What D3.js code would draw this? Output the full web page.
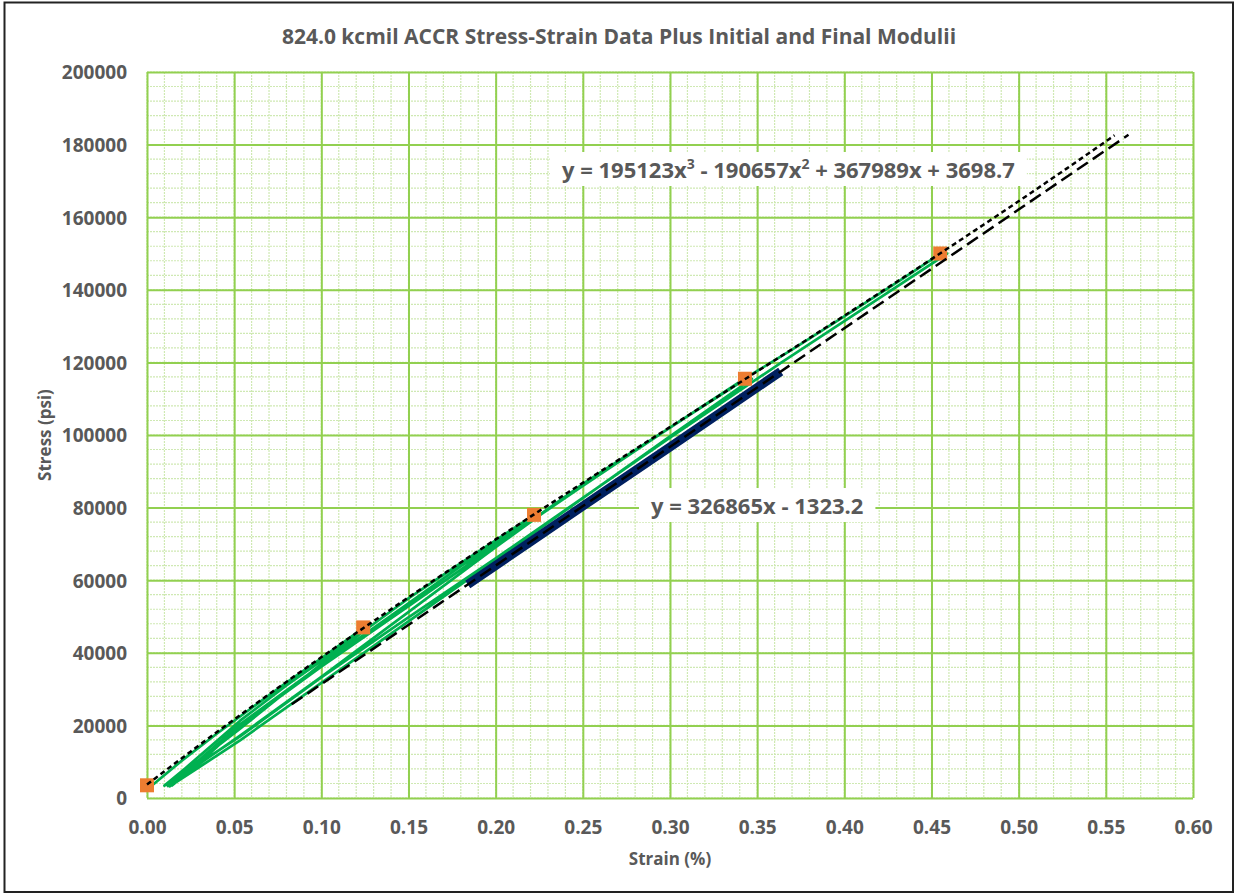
<!DOCTYPE html>
<html>
<head>
<meta charset="utf-8">
<script src="https://cdn.jsdelivr.net/npm/d3@7"></script>
<style>
  body { margin: 0; background: #fff; }
  svg text { font-family: "Open Sans", "DejaVu Sans", sans-serif; font-weight: 700; fill: #595959; }
</style>
</head>
<body>
<svg id="chart" width="1235" height="894"></svg>
<script>
// Axis ticks
const strainTicks = [0, 0.05, 0.10, 0.15, 0.20, 0.25, 0.30, 0.35, 0.40, 0.45, 0.50, 0.55, 0.60];
const stressTicks = [0, 20000, 40000, 60000, 80000, 100000, 120000, 140000, 160000, 180000, 200000];

// Loading / unloading cycles of the test (strain %, stress psi), in recorded order
const testStrain = [
  0.003, 0.02, 0.04, 0.06, 0.08, 0.10, 0.124,
  0.127, 0.10, 0.075, 0.0534, 0.035, 0.022, 0.010,
  0.022, 0.0534, 0.08, 0.10, 0.127, 0.15, 0.18, 0.20, 0.222,
  0.226, 0.20, 0.1451, 0.10, 0.0534, 0.03, 0.012,
  0.024, 0.0534, 0.10, 0.1451, 0.18, 0.226, 0.25, 0.28, 0.31, 0.343,
  0.347, 0.30, 0.25, 0.20, 0.1451, 0.10, 0.0534, 0.03, 0.013,
  0.026, 0.0534, 0.10, 0.1451, 0.20, 0.25, 0.30, 0.343, 0.37, 0.40, 0.43, 0.455,
  0.459, 0.40, 0.364, 0.30, 0.25, 0.20, 0.1451, 0.10, 0.0534, 0.03, 0.014
];
const testStress = [
  3500, 10300, 17700, 24800, 31800, 38500, 46800,
  47000, 36900, 27400, 19100, 12300, 7600, 3400,
  8200, 21300, 31000, 37800, 46900, 55000, 64700, 71000, 77900,
  78100, 69100, 49500, 33400, 17200, 9400, 3300,
  8000, 20300, 36700, 52000, 63900, 78300, 86500, 95800, 105100, 115300,
  115500, 99600, 82600, 65600, 47000, 31700, 15900, 8500, 3200,
  7900, 19900, 36200, 51200, 69600, 86000, 102000, 115600, 123500, 132700, 142000, 149900,
  150000, 131400, 120000, 99300, 82700, 66000, 48200, 33200, 17000, 9600, 3300
];

// Hold points at the start and at each peak load
const peakStrain = [0.0, 0.124, 0.222, 0.343, 0.455];
const peakStress = [3500, 47000, 78000, 115500, 150000];

// Final unloading segment used for the final modulus
const finalStrain = [0.184, 0.22, 0.26, 0.30, 0.3635];
const finalStress = [58800, 70600, 83700, 96700, 117500];

// Trendlines: initial (cubic) and final (linear) moduli
const polyCoef = [195123, -190657, 367989, 3698.7];   // x^3, x^2, x, 1
const polyRange = [0, 0.555];
const linCoef = [326865, -1323.2];                      // x, 1
const linRange = [0.083, 0.563];

const svg = d3.select("#chart");
const W = 1235, H = 894;
const m = { left: 147, top: 72, right: 1193, bottom: 798 };

// Outer frame
svg.append("rect").attr("x", 4.5).attr("y", 2.5).attr("width", W - 6.5).attr("height", H - 4.5)
  .attr("fill", "#fff").attr("stroke", "#222").attr("stroke-width", 2);

const x = d3.scaleLinear().domain([0, 0.6]).range([m.left, m.right]);
const y = d3.scaleLinear().domain([0, 200000]).range([m.bottom, m.top]);

// Grid: minor then major
const grid = svg.append("g");
grid.append("g").selectAll("line").data(d3.range(0, 61).map(i => i * 0.01))
  .join("line")
  .attr("x1", d => x(d)).attr("x2", d => x(d)).attr("y1", m.top).attr("y2", m.bottom)
  .attr("stroke", "#cfe9b3").attr("stroke-width", 1.2).attr("stroke-dasharray", "2,1");
grid.append("g").selectAll("line").data(d3.range(0, 51).map(i => i * 4000))
  .join("line")
  .attr("y1", d => y(d)).attr("y2", d => y(d)).attr("x1", m.left).attr("x2", m.right)
  .attr("stroke", "#cfe9b3").attr("stroke-width", 1.2).attr("stroke-dasharray", "2,1");

const xAxis = d3.axisBottom(x).tickValues(strainTicks).tickSize(-(m.bottom - m.top)).tickFormat(d3.format(".2f"));
const yAxis = d3.axisLeft(y).tickValues(stressTicks).tickSize(-(m.right - m.left)).tickFormat(d3.format("d"));

const gx = svg.append("g").attr("transform", `translate(0,${m.bottom})`).call(xAxis);
const gy = svg.append("g").attr("transform", `translate(${m.left},0)`).call(yAxis);
[gx, gy].forEach(g => {
  g.select(".domain").remove();
  g.selectAll(".tick line").attr("stroke", "#92d050").attr("stroke-width", 2);
  g.selectAll(".tick text").attr("font-size", 19).attr("fill", "#595959");
});
gx.selectAll(".tick text").attr("y", 23).attr("dy", "0.71em");
gy.selectAll(".tick text").attr("x", -20).attr("dy", "0.36em");

// Test data
const pts = testStrain.map((s, i) => [s, testStress[i]]);
const line = d3.line().x(d => x(d[0])).y(d => y(d[1]));
svg.append("path").datum(pts).attr("d", line)
  .attr("fill", "none").attr("stroke", "#00b050").attr("stroke-width", 2.7)
  .attr("stroke-linejoin", "round");

// Final modulus segment
const fin = finalStrain.map((s, i) => [s, finalStress[i]]);
svg.append("path").datum(fin).attr("d", line)
  .attr("fill", "none").attr("stroke", "#002060").attr("stroke-width", 9);

// Peak markers
svg.append("g").selectAll("rect").data(peakStrain.map((s, i) => [s, peakStress[i]]))
  .join("rect")
  .attr("x", d => x(d[0]) - 7).attr("y", d => y(d[1]) - 7)
  .attr("width", 14).attr("height", 14).attr("fill", "#ed7d31");

// Trendlines
const polyF = v => ((polyCoef[0] * v + polyCoef[1]) * v + polyCoef[2]) * v + polyCoef[3];
const linF = v => linCoef[0] * v + linCoef[1];
const sample = (f, r, n) => d3.range(n + 1).map(i => { const v = r[0] + (r[1] - r[0]) * i / n; return [v, f(v)]; });

svg.append("path").datum(sample(polyF, polyRange, 200)).attr("d", line)
  .attr("fill", "none").attr("stroke", "#000").attr("stroke-width", 2.5).attr("stroke-dasharray", "5,3.5");
svg.append("path").datum(sample(linF, linRange, 2)).attr("d", line)
  .attr("fill", "none").attr("stroke", "#000").attr("stroke-width", 2.5).attr("stroke-dasharray", "13,6");

// Trendline equation labels; {exp: "n"} parts are drawn as superscripts
function eqLabel(tx, ty, parts) {
  const g = svg.append("g");
  const bg = g.append("rect").attr("fill", "#fff");
  const t = g.append("text").attr("x", tx).attr("y", ty).attr("font-size", 22).attr("fill", "#595959");
  let shift = 0;
  parts.forEach(p => {
    if (typeof p === "string") {
      t.append("tspan").attr("dy", -shift).text(p);
      shift = 0;
    } else {
      t.append("tspan").attr("font-size", 14).attr("dy", -9).text(p.exp);
      shift = -9;
    }
  });
  const b = t.node().getBBox();
  bg.attr("x", b.x - 12).attr("y", b.y - 2).attr("width", b.width + 24).attr("height", b.height + 4);
}
eqLabel(562, 178, ["y = 195123x", { exp: "3" }, " - 190657x", { exp: "2" }, " + 367989x + 3698.7"]);
eqLabel(651, 514, ["y = 326865x - 1323.2"]);

// Titles
svg.append("text").attr("x", 619).attr("y", 44).attr("text-anchor", "middle")
  .attr("font-size", 21).text("824.0 kcmil ACCR Stress-Strain Data Plus Initial and Final Modulii");
svg.append("text").attr("x", (m.left + m.right) / 2).attr("y", 865).attr("text-anchor", "middle")
  .attr("font-size", 17).text("Strain (%)");
svg.append("text").attr("transform", `translate(51,${(m.top + m.bottom) / 2}) rotate(-90)`)
  .attr("text-anchor", "middle").attr("font-size", 17).text("Stress (psi)");
</script>
</body>
</html>
